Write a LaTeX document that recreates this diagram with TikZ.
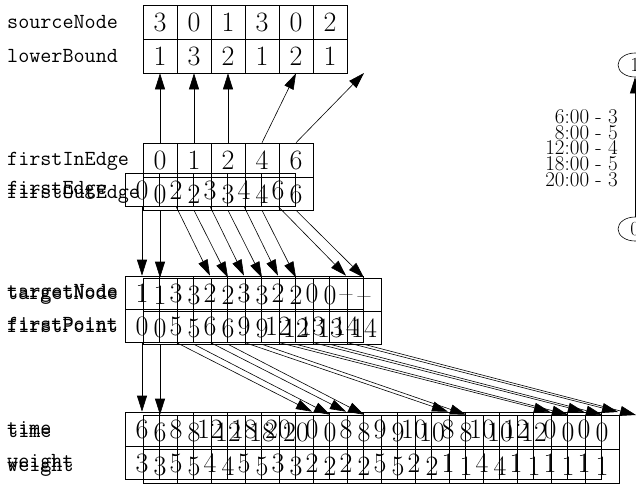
\documentclass[tikz,border=0pt]{standalone}
\usepackage{fontspec}
\usetikzlibrary{arrows.meta,shapes.geometric}
\newcommand\mkrow[5]{%
  \foreach \v [count=\i from 0] in {#5} {
    \node[cell, minimum height=#4] (#1-\i) at ({#2+17+34*\i}, #3) {\v};
  }%
}
\begin{document}
\begin{tikzpicture}[x=1pt,y=-1pt,
  cell/.style={draw, line width=0.6pt, minimum width=34pt, inner sep=0pt, text height=19pt, text depth=0pt, font=\fontsize{28}{30}\selectfont},
  lbl/.style={anchor=base west, inner sep=0pt, font=\fontsize{21.5}{24}\selectfont\ttfamily},
  arr/.style={line width=0.6pt, -{Triangle[length=16pt,width=10pt]}},
  gnode/.style={draw, ellipse, line width=0.6pt, minimum width=34pt, minimum height=24pt, inner sep=0pt, font=\fontsize{20}{22}\selectfont},
]
\useasboundingbox (0,0) rectangle (636,483);
% copy B
\mkrow{Bsrc}{143}{22}{34pt}{3,0,1,3,0,2}
\mkrow{Blb}{143}{56}{34pt}{1,3,2,1,2,1}
\mkrow{Bfie}{143}{160}{34pt}{0,1,2,4,6}
\mkrow{Bfoe}{143}{193.5}{33pt}{0,2,3,4,6}
\mkrow{Btn}{143}{294.5}{33pt}{1,3,2,3,2,0,--}
\mkrow{Bfp}{143}{327.5}{33pt}{0,5,6,9,12,13,14}
\mkrow{Btime}{143}{432}{34pt}{6,8,12,18,20,0,8,9,10,8,10,12,0,0}
\mkrow{Bw}{143}{466}{34pt}{3,5,4,5,3,2,2,5,2,1,4,1,1,1}
% copy A
\mkrow{Afe}{125}{189.5}{33pt}{0,2,3,4,6}
\mkrow{Atn}{125}{292.5}{33pt}{1,3,2,3,2,0,--}
\mkrow{Afp}{125}{325.5}{33pt}{0,5,6,9,12,13,14}
\mkrow{Atime}{125}{429}{34pt}{6,8,12,18,20,0,8,9,10,8,10,12,0,0}
\mkrow{Aw}{125}{462.5}{33pt}{3,5,4,5,3,2,2,5,2,1,4,1,1,1}
% labels
\node[lbl] (LBsrc) at (7,28) {sourceNode};
\node[lbl] (LBlb) at (7,62) {lowerBound};
\node[lbl] (LBfie) at (7,165) {firstInEdge};
\node[lbl] (LBfoe) at (7,198.5) {firstOutEdge};
\node[lbl] (LAfe) at (7,194.5) {firstEdge};
\node[lbl] (LBtn) at (7,299.5) {targetNode};
\node[lbl] (LAtn) at (7,297.5) {targetNode};
\node[lbl] (LBfp) at (7,332.5) {firstPoint};
\node[lbl] (LAfp) at (7,330.5) {firstPoint};
\node[lbl] (LBtime) at (7,437) {time};
\node[lbl] (LAtime) at (7,434) {time};
\node[lbl] (LBw) at (7,471) {weight};
\node[lbl] (LAw) at (7,467.5) {weight};
% virtual targets
\coordinate (Blb-6) at (364,73);
\coordinate (Btime-14) at (636,415);
\coordinate (Atime-14) at (618,412);
% arrows
\foreach \s/\t in {0/0,1/1,2/2,3/4} \draw[arr] (Bfie-\s.north) -- (Blb-\t.south);
\draw[arr] (Bfie-4.north) -- (Blb-6);
\foreach \s/\t in {0/0,1/2,2/3,3/4,4/6} \draw[arr] (Bfoe-\s.south) -- (Btn-\t.north);
\foreach \s/\t in {0/0,1/2,2/3,3/4,4/6} \draw[arr] (Afe-\s.south) -- (Atn-\t.north);
\foreach \s/\t in {0/0,1/5,2/6,3/9,4/12,5/13} \draw[arr] (Bfp-\s.south) -- (Btime-\t.north);
\draw[arr] (Bfp-6.south) -- (Btime-14);
\foreach \s/\t in {0/0,1/5,2/6,3/9,4/12,5/13} \draw[arr] (Afp-\s.south) -- (Atime-\t.north);
\draw[arr] (Afp-6.south) -- (Atime-14);
% graph on the right
\node[gnode] (g1) at (635,65) {1};
\node[gnode] (g0) at (635,229) {0};
\draw[arr] (g0) -- (g1);
\node[anchor=east, align=right, inner sep=0pt, font=\fontsize{21}{15.7}\selectfont] (glab) at (618,148) {6:00 - 3\\8:00 - 5\\12:00 - 4\\18:00 - 5\\20:00 - 3};
\end{tikzpicture}
\end{document}
